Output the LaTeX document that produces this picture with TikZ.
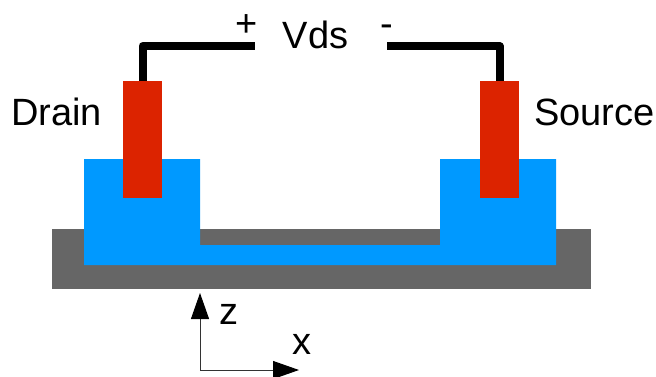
\documentclass[tikz,border=0pt]{standalone}
\usepackage{fontspec}
\setmainfont{Liberation Sans}
\usetikzlibrary{arrows.meta}
\definecolor{gate}{HTML}{666666}
\definecolor{chan}{HTML}{0099FF}
\definecolor{elec}{HTML}{DC2300}
\definecolor{axisgray}{HTML}{333333}
\tikzset{x=1pt,y=-1pt,
 lab/.style={inner sep=0pt,anchor=base,font=\fontsize{38}{38}\selectfont,text=black},
 wire/.style={line width=8pt,black},
 axis/.style={line width=1pt,axisgray,-{Triangle[length=26pt,width=18pt,color=black]}}}
\begin{document}
\begin{tikzpicture}
\useasboundingbox (0,0) rectangle (656,376);
\fill[gate] (52,229) rectangle (591,289);
\fill[chan] (84,159) -- (200,159) -- (200,245) -- (440,245) -- (440,159) -- (556,159) -- (556,265) -- (84,265) -- cycle;
\coordinate (dt) at (142.5,82);
\coordinate (st) at (499.5,82);
\coordinate (dl) at (142.5,46);
\coordinate (sl) at (499.5,46);
\coordinate (de) at (255,46);
\coordinate (se) at (387,46);
\draw[wire,line join=round] (dt) -- (dl) -- (de);
\draw[wire,line join=round] (st) -- (sl) -- (se);
\fill[elec] (123,81) rectangle (162,198);
\fill[elec] (480,81) rectangle (519,198);
\node[lab] (plus) at (246.5,36) {+};
\node[lab] (vds) at (315.5,48) {Vds};
\node[lab] (minus) at (387,36) {-};
\node[lab] (drain) at (56.5,125) {Drain};
\node[lab] (source) at (594.5,125) {Source};
\coordinate (o) at (200,370);
\coordinate (zt) at (200,293);
\coordinate (xt) at (299,370);
\draw[axis] (o) -- (zt);
\draw[axis] (o) -- (xt);
\node[lab] (z) at (229,324) {z};
\node[lab] (xl) at (302,354) {x};
\end{tikzpicture}
\end{document}
